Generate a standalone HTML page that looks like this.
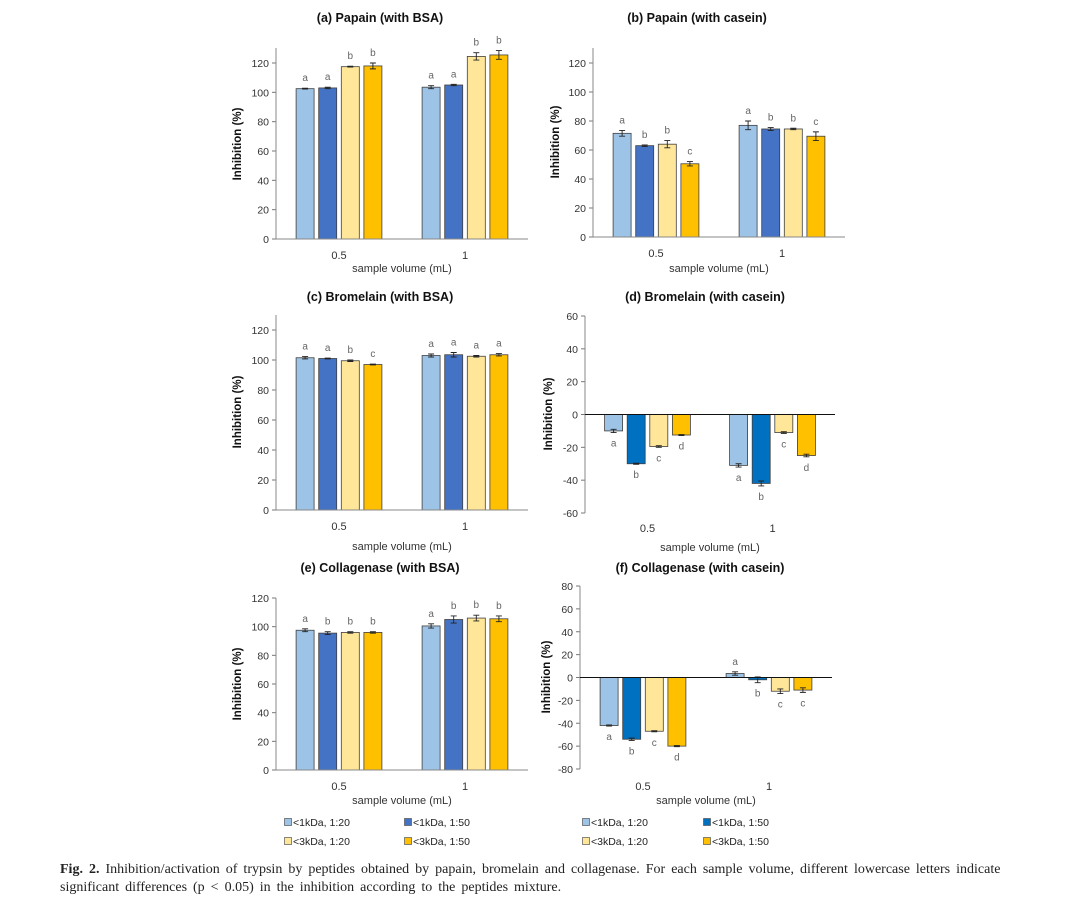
<!DOCTYPE html>
<html><head><meta charset="utf-8"><style>
body{margin:0;background:#fff;}
svg text{font-family:"Liberation Sans",sans-serif;}
.cap{position:absolute;left:60px;top:861px;width:1010px;white-space:nowrap;font-family:"Liberation Serif",serif;font-size:14px;word-spacing:2.5px;line-height:18px;color:#222;}
</style></head><body>
<svg id="fig" width="1080" height="915" style="position:absolute;left:0;top:0"></svg>
<div class="cap"><b>Fig. 2.</b> Inhibition/activation of trypsin by peptides obtained by papain, bromelain and collagenase. For each sample volume, different lowercase letters indicate<br>significant differences (p &lt; 0.05) in the inhibition according to the peptides mixture.</div>
<script>
const categories=["0.5","1"];
const seriesNames=["<1kDa, 1:20","<1kDa, 1:50","<3kDa, 1:20","<3kDa, 1:50"];
const aVals=[[102.5,103,117.5,118],[103.5,105,124.5,125.5]];
const aErr=[[0.3,0.5,0.3,2],[1,0.5,2.5,3]];
const aLet=[["a","a","b","b"],["a","a","b","b"]];
const bVals=[[71.5,63,64,50.5],[77,74.5,74.5,69.5]];
const bErr=[[2,0.5,2.5,1.5],[3,1,0.5,3]];
const bLet=[["a","b","b","c"],["a","b","b","c"]];
const cVals=[[101.5,101,99.5,97],[103,103.5,102.5,103.5]];
const cErr=[[0.8,0.3,0.5,0.3],[1,1.5,0.5,0.8]];
const cLet=[["a","a","b","c"],["a","a","a","a"]];
const dVals=[[-10,-30,-19.5,-12.5],[-31,-42,-11,-25]];
const dErr=[[1,0.3,0.5,0.3],[1,1.5,0.5,0.8]];
const dLet=[["a","b","c","d"],["a","b","c","d"]];
const eVals=[[97.5,95.5,96,96],[100.5,105,106,105.5]];
const eErr=[[1,1,0.5,0.5],[1.5,2.5,2,2]];
const eLet=[["a","b","b","b"],["a","b","b","b"]];
const fVals=[[-42,-54,-47,-60],[3.5,-2,-12,-11]];
const fErr=[[0.5,1,0.5,0.5],[1.5,2.5,2,2]];
const fLet=[["a","b","c","d"],["a","b","c","c"]];
const ticksA=[0,20,40,60,80,100,120];
const ticksC=[0,20,40,60,80,100,120];
const ticksD=[-60,-40,-20,0,20,40,60];
const ticksE=[0,20,40,60,80,100,120];
const ticksF=[-80,-60,-40,-20,0,20,40,60,80];

const NS="http://www.w3.org/2000/svg";
const svg=document.getElementById('fig');
function mk(tag,attrs,parent,txt){const e=document.createElementNS(NS,tag);for(const k in attrs)e.setAttribute(k,attrs[k]);if(txt!==undefined)e.textContent=txt;(parent||svg).appendChild(e);return e;}
const light=["#9DC3E6","#4472C4","#FFE699","#FFC000"];
const dark=["#9DC3E6","#0070C0","#FFE699","#FFC000"];

function panel(id,P){
  const g=mk('g',{});
  
  
  const yv=v=>P.py0+(v-P.v0)*(P.py1-P.py0)/(P.v1-P.v0);
  const zeroY=yv(0);
  const t=mk('text',{x:P.tx,y:P.ty,'text-anchor':'middle','font-size':12.5,'font-weight':'bold',fill:'#111'},g,P.title);
  
  P.ticks.forEach(v=>{
    const tl=mk('text',{x:P.x0-7,y:yv(v)+4,'text-anchor':'end','font-size':10.5,fill:'#333'},g,String(v));
    
    mk('line',{x1:P.x0-4,x2:P.x0,y1:yv(v),y2:yv(v),stroke:'#777'},g);
  });
  const ya=mk('line',{x1:P.x0,x2:P.x0,y1:P.axTop,y2:P.axBot,stroke:'#888'},g);
  
  const yt=mk('text',{x:0,y:0,transform:`translate(${P.ytx},${P.yty}) rotate(-90)`,'text-anchor':'middle','font-size':11.5,'font-weight':'bold',fill:'#111'},g,'Inhibition (%)');
  
  const cw=(P.x1-P.x0)/categories.length;
  categories.forEach((c,ci)=>{
    const cx=P.x0+cw*(ci+0.5);
    const cl=mk('text',{x:cx,y:P.xly,'text-anchor':'middle','font-size':11,fill:'#333'},g,c);
    
    for(let s=0;s<4;s++){
      const v=P.vals[ci][s],er=P.err[ci][s];
      const bx=cx+(s-1.5)*22.6-9;
      const yTop=Math.min(yv(v),zeroY),h=Math.abs(yv(v)-zeroY);
      const r=mk('rect',{x:bx,y:yTop,width:18,height:h,fill:P.cols[s],stroke:'#404040','stroke-width':0.8},g);
      
      const e1=yv(v+er),e2=yv(v-er),mx=bx+9;
      mk('path',{d:`M${mx} ${e1}V${e2}M${mx-3} ${e1}H${mx+3}M${mx-3} ${e2}H${mx+3}`,stroke:'#222','stroke-width':0.9,fill:'none'},g);
      const ly=v>=0?yv(v+er)-7:yv(v-er)+14;
      const lt=mk('text',{x:mx,y:ly,'text-anchor':'middle','font-size':10,fill:'#666'},g,P.lets[ci][s]);
      
    }
  });
  const xa=mk('line',{x1:P.x0,x2:P.x1,y1:zeroY,y2:zeroY,stroke:P.v0<0?'#111':'#888'},g);
  
  const xt=mk('text',{x:(P.x0+P.x1)/2,y:P.xty,'text-anchor':'middle','font-size':11,fill:'#333'},g,'sample volume (mL)');
  
}
panel('papain-bsa',{title:'(a)  Papain (with BSA)',tx:380,ty:22,x0:276,x1:528,v0:0,v1:120,py0:239,py1:63,axTop:48,axBot:239,ticks:ticksA,ytx:241,yty:144,xly:259,xty:272,vals:aVals,err:aErr,lets:aLet,cols:light});
panel('papain-casein',{title:'(b)  Papain (with casein)',tx:697,ty:22,x0:593,x1:845,v0:0,v1:120,py0:237,py1:63,axTop:48,axBot:237,ticks:ticksA,ytx:559,yty:142,xly:257,xty:272,vals:bVals,err:bErr,lets:bLet,cols:light});
panel('bromelain-bsa',{title:'(c)  Bromelain (with BSA)',tx:380,ty:301,x0:276,x1:528,v0:0,v1:120,py0:510,py1:330,axTop:315,axBot:510,ticks:ticksC,ytx:241,yty:412,xly:530,xty:550,vals:cVals,err:cErr,lets:cLet,cols:light});
panel('bromelain-casein',{title:'(d)  Bromelain (with casein)',tx:705,ty:301,x0:585,x1:835,v0:-60,v1:60,py0:513,py1:316,axTop:316,axBot:513,ticks:ticksD,ytx:552,yty:414,xly:532,xty:551,vals:dVals,err:dErr,lets:dLet,cols:dark});
panel('collagenase-bsa',{title:'(e)  Collagenase (with BSA)',tx:380,ty:572,x0:276,x1:528,v0:0,v1:120,py0:770,py1:598,axTop:598,axBot:770,ticks:ticksE,ytx:241,yty:684,xly:790,xty:804,vals:eVals,err:eErr,lets:eLet,cols:light});
panel('collagenase-casein',{title:'(f)  Collagenase (with casein)',tx:700,ty:572,x0:580,x1:832,v0:-80,v1:80,py0:769,py1:586,axTop:586,axBot:769,ticks:ticksF,ytx:550,yty:677,xly:790,xty:804,vals:fVals,err:fErr,lets:fLet,cols:dark});

function legend(x,xs2,cols,id){
  const pos=[[x,822],[xs2,822],[x,841],[xs2,841]];
  for(let s=0;s<4;s++){
    const [lx,ly]=pos[s];
    const sw=mk('rect',{x:lx-3.5,y:ly-3.5,width:7,height:7,fill:cols[s],stroke:'#555','stroke-width':0.7});
    
    const lt=mk('text',{x:lx+5,y:ly+4,'font-size':10.5,fill:'#222'},svg,seriesNames[s]);
    
  }
}
legend(288,408,light,'legend-left');
legend(586,707,dark,'legend-right');
</script>
</body></html>
